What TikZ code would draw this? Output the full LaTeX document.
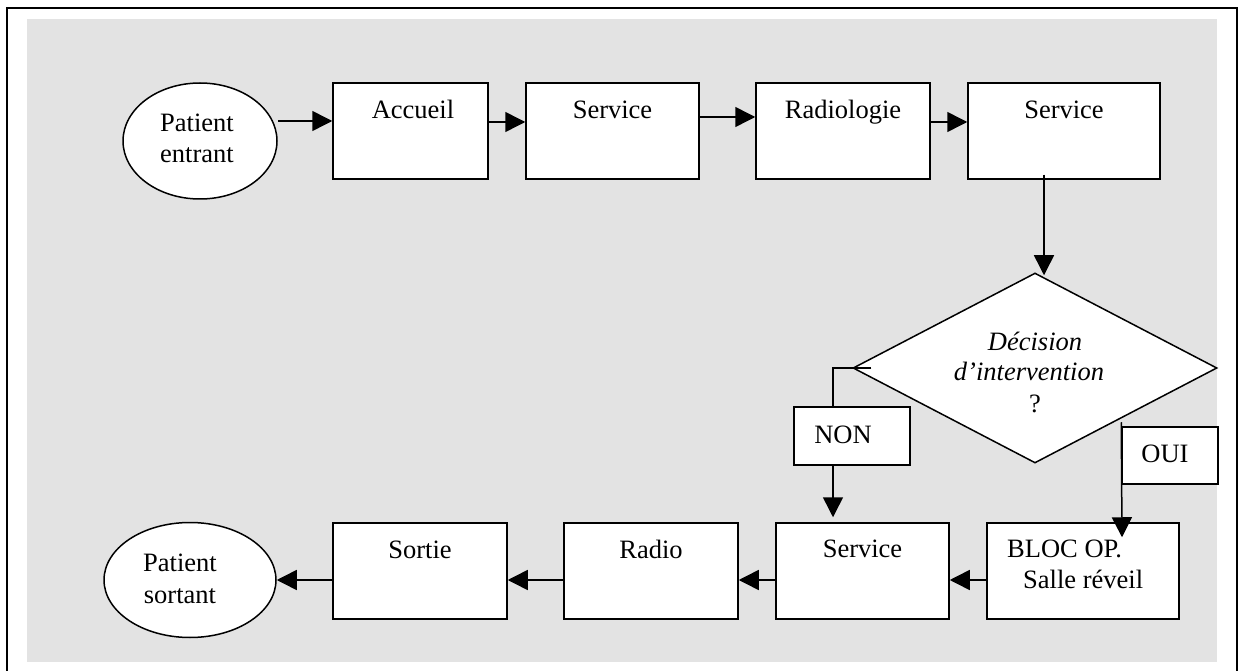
\documentclass[tikz,border=0pt]{standalone}
\usepackage{fontspec}
\setmainfont{Liberation Serif}
\usetikzlibrary{shapes.geometric,arrows.meta}
\definecolor{bggray}{HTML}{E3E3E3}
\tikzset{
  box/.style={draw, fill=white, line width=1.5pt, minimum height=96pt, inner sep=0pt},
  lbl/.style={draw, fill=white, line width=1.5pt, inner sep=0pt},
  oval/.style={draw, fill=white, ellipse, line width=1.5pt, inner sep=0pt},
  txt/.style={anchor=base, inner sep=0pt, font=\fontsize{26.5pt}{30pt}\selectfont},
  conn/.style={line width=1.5pt},
  arr/.style={line width=1.5pt, -{Triangle[length=20pt,width=20pt]}}
}
\begin{document}
\begin{tikzpicture}[x=1pt,y=-1pt]
\useasboundingbox (0,0) rectangle (1243,671);
\fill[bggray] (27,19) rectangle (1217,662);
\draw[line width=2pt] (7,671) -- (7,8) -- (1237,8) -- (1237,671);

% top row
\node[oval, minimum width=154pt, minimum height=116pt] (pe) at (200,141) {};
\node[txt] (pet1) at (197,132) {Patient};
\node[txt] (pet2) at (197,163) {entrant};

\node[box, minimum width=155pt] (acc) at (410.5,131) {};
\node[txt] (acct) at (413,119) {Accueil};
\node[box, minimum width=173pt] (srv1) at (612.5,131) {};
\node[txt] (srv1t) at (612.5,119) {Service};
\node[box, minimum width=174pt] (rad) at (843,131) {};
\node[txt] (radt) at (843,119) {Radiologie};
\node[box, minimum width=192pt] (srv2) at (1064,131) {};
\node[txt] (srv2t) at (1064,119) {Service};

% decision
\node[diamond, draw, fill=white, line width=1.5pt, inner sep=0pt,
      minimum width=364pt, minimum height=190pt] (dec) at (1035,368) {};
\node[txt] (dect1) at (1035,350) {\itshape Décision};
\node[txt] (dect2) at (1029,380) {\itshape d’intervention};
\node[txt] (dect3) at (1035,412) {?};

\node[lbl, minimum width=116pt, minimum height=58pt] (non) at (852,436) {};
\node[txt] (nont) at (843,443) {NON};
\node[lbl, minimum width=96pt, minimum height=57pt] (oui) at (1170,455.5) {};
\node[txt] (ouit) at (1165,462) {OUI};

% bottom row
\node[box, minimum width=192pt] (bloc) at (1083,571) {};
\node[txt, anchor=base west] (bloct1) at (1007,557) {BLOC OP.};
\node[txt, anchor=base west] (bloct2) at (1023,588) {Salle réveil};
\node[box, minimum width=173pt] (srv3) at (862.5,571) {};
\node[txt] (srv3t) at (862.5,557) {Service};
\node[box, minimum width=174pt] (radio) at (651,571) {};
\node[txt] (radiot) at (651,558) {Radio};
\node[box, minimum width=174pt] (sortie) at (420,571) {};
\node[txt] (sortiet) at (420,558) {Sortie};
\node[oval, minimum width=172pt, minimum height=115pt] (ps) at (190,580) {};
\node[txt] (pst1) at (180,571) {Patient};
\node[txt] (pst2) at (180,603) {sortant};

% connectors top row
\draw[arr] ([yshift=20pt]pe.east) -- ([yshift=10pt]acc.west);
\draw[arr] ([yshift=9pt]acc.east) -- ([yshift=9pt]srv1.west);
\draw[arr] ([yshift=14pt]srv1.east) -- ([yshift=14pt]rad.west);
\draw[arr] ([yshift=9pt]rad.east) -- ([yshift=9pt]srv2.west);
\draw[arr] ([xshift=-20pt,yshift=5pt]srv2.south) -- ([xshift=9pt,yshift=-3pt]dec.north);

% NON branch
\draw[conn] ([xshift=19pt]dec.west) -| ([xshift=-19pt]non.north);
\draw[arr] ([xshift=-19pt]non.south) -- ([xshift=-29.5pt,yshift=5pt]srv3.north);

% OUI branch
\draw[arr] ([yshift=4pt]oui.north west) -- ([xshift=39pt,yshift=-15pt]bloc.north);

% connectors bottom row
\draw[arr] ([yshift=-9pt]bloc.west) -- ([yshift=-9pt]srv3.east);
\draw[arr] ([yshift=-9pt]srv3.west) -- ([yshift=-9pt]radio.east);
\draw[arr] ([yshift=-9pt]radio.west) -- ([yshift=-9pt]sortie.east);
\draw[arr] ([yshift=-9pt]sortie.west) -- (ps.east);
\end{tikzpicture}
\end{document}
